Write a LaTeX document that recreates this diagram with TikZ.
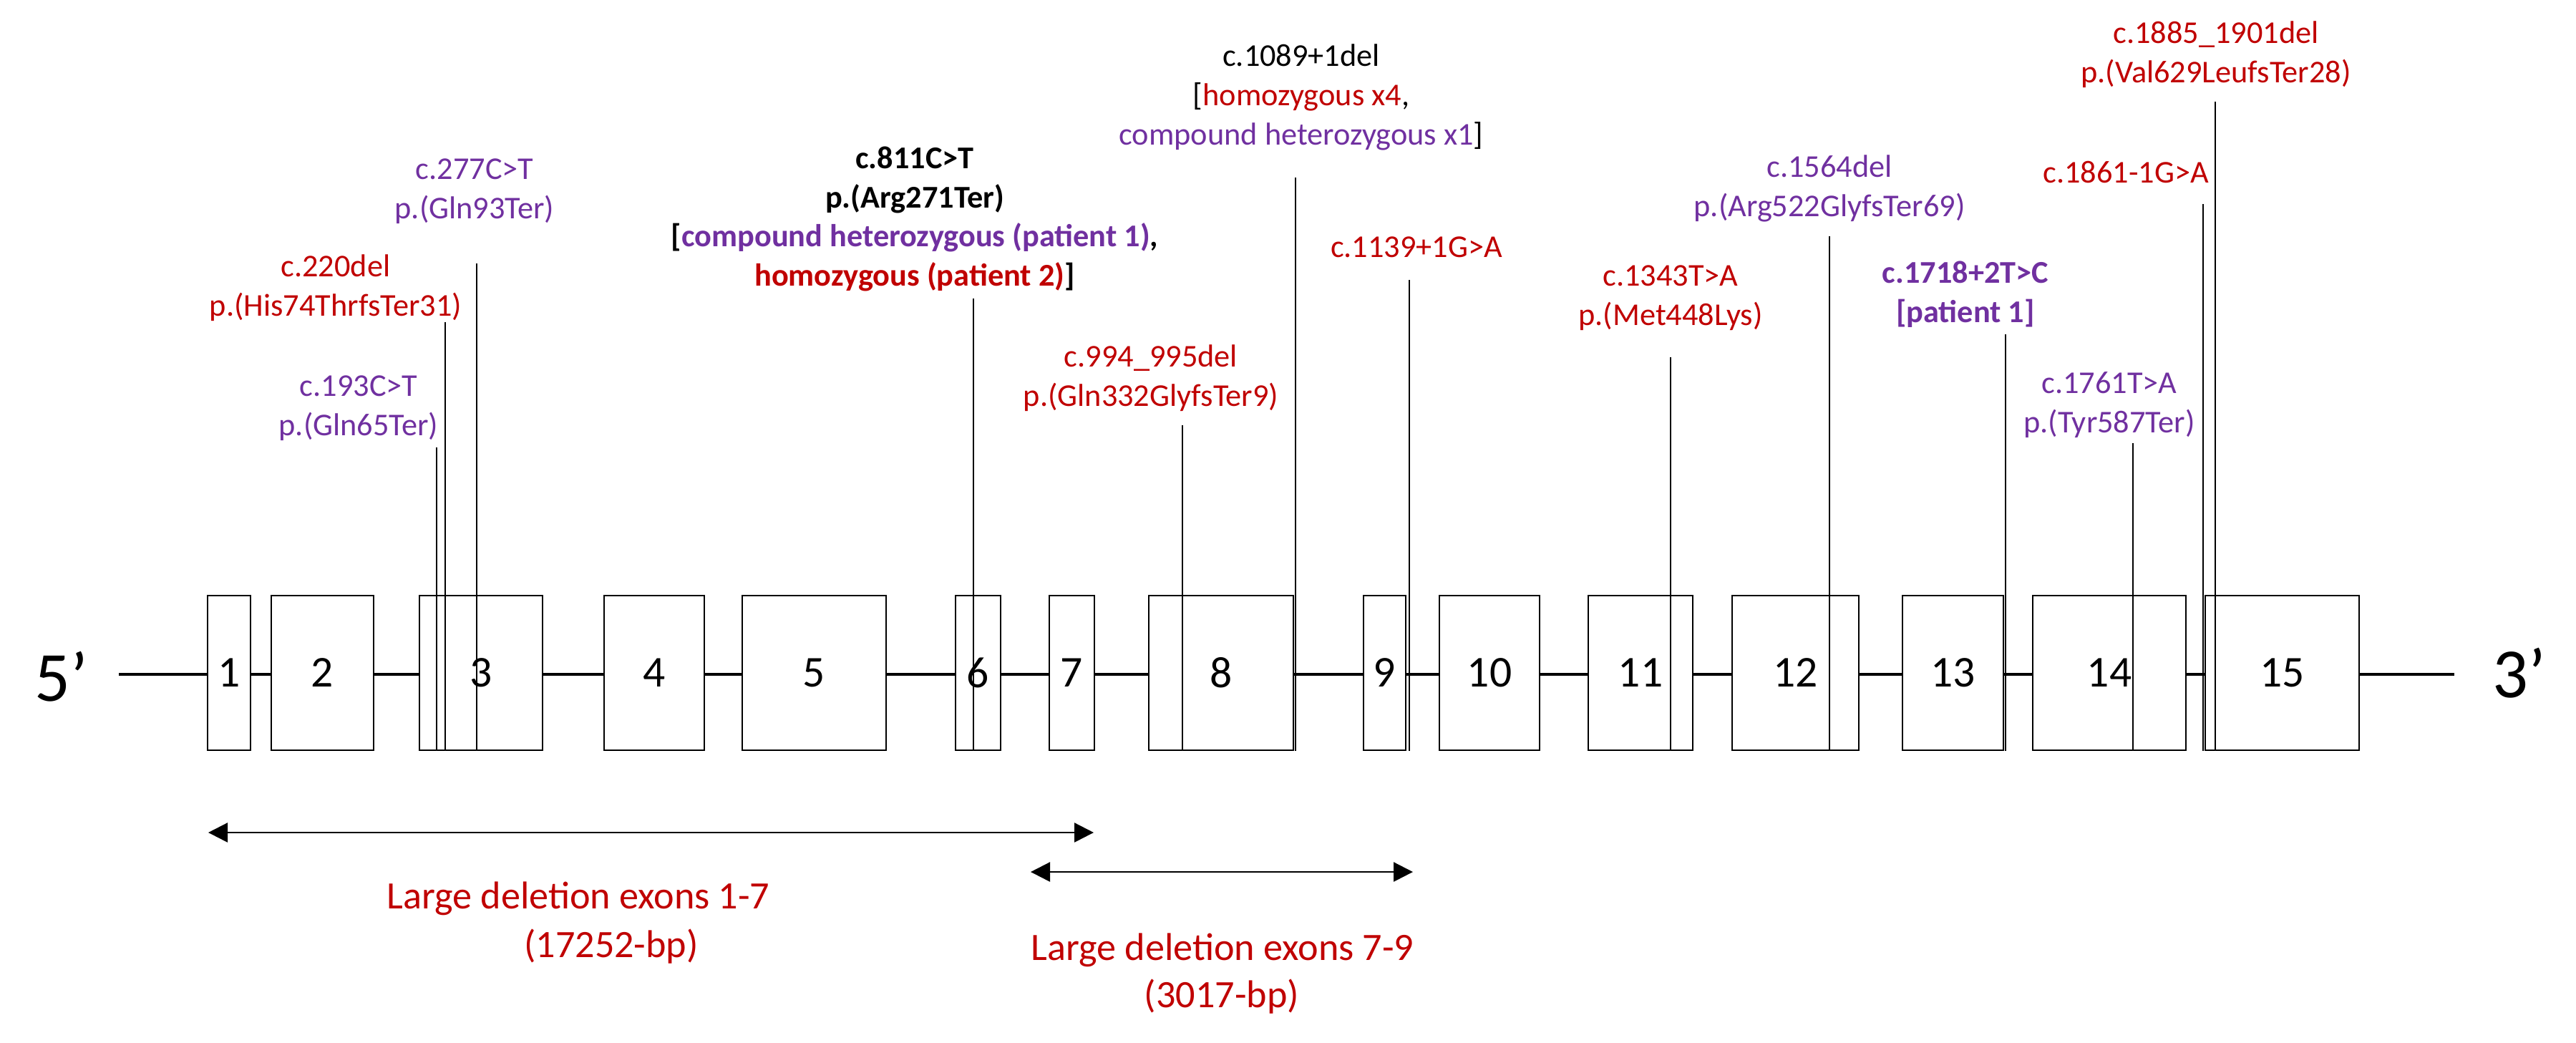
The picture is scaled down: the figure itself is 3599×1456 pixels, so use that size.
\documentclass[tikz,border=0pt]{standalone}
\usepackage{fontspec}
\setmainfont{Carlito}
\usetikzlibrary{arrows.meta}
\definecolor{homred}{HTML}{C00000}
\definecolor{hetpurple}{HTML}{7030A0}

\begin{document}
\begin{tikzpicture}[x=0.01cm, y=-0.01cm,
    exon/.style={draw, line width=0.4pt, fill=white, inner sep=0pt,
      minimum height=2.16cm, minimum width=#1,
      font=\fontsize{17.5}{20}\selectfont},
    intron/.style={line width=1.4pt},
    mut/.style={line width=0.55pt},
    lbl/.style={align=center, inner sep=0pt, font=\fontsize{12.6}{15.6}\selectfont},
    dellbl/.style={inner sep=0pt, text=homred, font=\fontsize{15.4}{19}\selectfont},
    endlbl/.style={inner sep=0pt, font=\fontsize{28}{30}\selectfont},
    span/.style={line width=0.7pt,
      {Triangle[length=0.27cm,width=0.27cm]}-{Triangle[length=0.27cm,width=0.27cm]}}]
  \useasboundingbox (0,0) rectangle (3599,1456);

  % gene backbone
  \node[endlbl] (five) at (86,945) {5’};
  \node[endlbl] (three) at (3520,940) {3’};
  \coordinate (start) at (166,942);
  \coordinate (stop) at (3429,942);
  \draw[intron] (start) -- (stop);

  % exons
  \node[exon=0.60cm] (ex1)  at (320,940)    {1};
  \node[exon=1.43cm] (ex2)  at (450.5,940)  {2};
  \node[exon=1.72cm] (ex3)  at (672,940)    {3};
  \node[exon=1.40cm] (ex4)  at (914,940)    {4};
  \node[exon=2.01cm] (ex5)  at (1137.5,940) {5};
  \node[exon=0.63cm] (ex6)  at (1366.5,940) {6};
  \node[exon=0.63cm] (ex7)  at (1497.5,940) {7};
  \node[exon=2.02cm] (ex8)  at (1706,940)   {8};
  \node[exon=0.59cm] (ex9)  at (1934.5,940) {9};
  \node[exon=1.40cm] (ex10) at (2081,940)   {10};
  \node[exon=1.46cm] (ex11) at (2292,940)   {11};
  \node[exon=1.77cm] (ex12) at (2508.5,940) {12};
  \node[exon=1.41cm] (ex13) at (2728.5,940) {13};
  \node[exon=2.14cm] (ex14) at (2947,940)   {14};
  \node[exon=2.15cm] (ex15) at (3188.5,940) {15};

  % variants
  \node[lbl, text=hetpurple] (v193) at (501,570) {c.193C>T\\p.(Gln65Ter)};
  \node[lbl, text=homred] (v220) at (469,402) {c.220del\\p.(His74ThrfsTer31)};
  \node[lbl, text=hetpurple] (v277) at (663,267) {c.277C>T\\p.(Gln93Ter)};
  \node[lbl, font=\fontsize{12.6}{15.6}\selectfont\bfseries] (v811) at (1278,306)
    {c.811C>T\\p.(Arg271Ter)\\
     {[}\textcolor{hetpurple}{compound heterozygous (patient 1)},\\
     \textcolor{homred}{homozygous (patient 2)}]};
  \node[lbl, text=homred] (v994) at (1608,528) {c.994\_995del\\p.(Gln332GlyfsTer9)};
  \node[lbl] (v1089) at (1818,136)
    {c.1089+1del\\
     {[}\textcolor{homred}{homozygous x4},\\
     \textcolor{hetpurple}{compound heterozygous x1}]};
  \node[lbl, text=homred] (v1139) at (1979,345) {c.1139+1G>A};
  \node[lbl, text=homred] (v1343) at (2334,416) {c.1343T>A\\p.(Met448Lys)};
  \node[lbl, text=hetpurple] (v1564) at (2556,263) {c.1564del\\p.(Arg522GlyfsTer69)};
  \node[lbl, text=hetpurple, font=\fontsize{12.6}{15.6}\selectfont\bfseries] (v1718) at (2746,411)
    {c.1718+2T>C\\{[}patient 1]};
  \node[lbl, text=hetpurple] (v1761) at (2947,566) {c.1761T>A\\p.(Tyr587Ter)};
  \node[lbl, text=homred] (v1861) at (2970,241) {c.1861-1G>A};
  \node[lbl, text=homred] (v1885) at (3096,76) {c.1885\_1901del\\p.(Val629LeufsTer28)};

  % variant positions
  \foreach \x/\t/\e in {610/625/ex3, 622/450/ex3, 666/368/ex3, 1360/417/ex6,
      1652/594/ex8, 1810/248/ex8, 1969/391/ex9, 2334/499/ex11, 2556/330/ex12,
      2802/467/ex13, 2980/619/ex14, 3078/285/ex15, 3095/142/ex15} {
    \coordinate (top) at (\x,\t);
    \draw[mut] (top) -- (top |- \e.south);
  }

  % large deletions
  \coordinate (d1a) at (291,1163);
  \coordinate (d1b) at (1528,1163);
  \coordinate (d2a) at (1440,1218);
  \coordinate (d2b) at (1974,1218);
  \draw[span] (d1a) -- (d1b);
  \draw[span] (d2a) -- (d2b);
  \node[dellbl] (del1) at (808,1255) {Large deletion exons 1-7};
  \node[dellbl] (del1bp) at (854,1322) {(17252-bp)};
  \node[dellbl] (del2) at (1708,1327) {Large deletion exons 7-9};
  \node[dellbl] (del2bp) at (1707,1392) {(3017-bp)};
\end{tikzpicture}
\end{document}
